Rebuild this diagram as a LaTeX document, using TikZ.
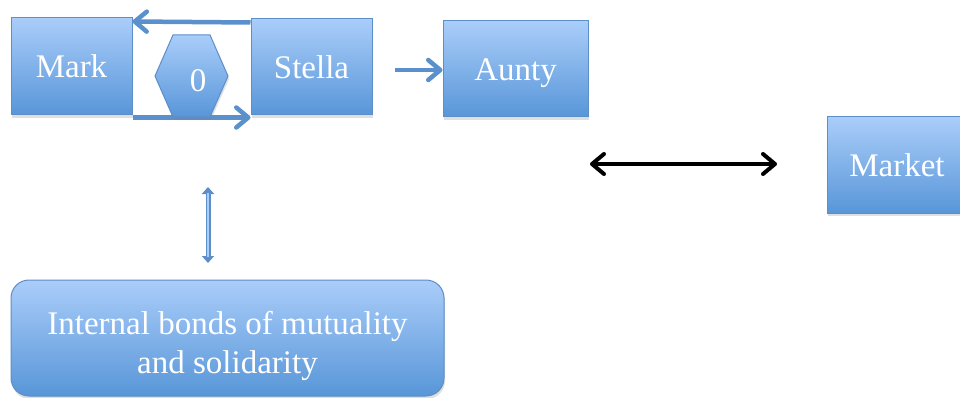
\documentclass[tikz,border=0pt]{standalone}
\usepackage{fontspec}
\setmainfont{Liberation Serif}
\usetikzlibrary{arrows.meta,shadows}
\definecolor{boxtop}{RGB}{170,205,250}
\definecolor{boxbot}{RGB}{88,150,216}
\definecolor{boxedge}{RGB}{92,142,200}
\definecolor{linkblue}{RGB}{90,145,205}
\tikzset{
  person/.style={draw=boxedge, line width=1pt, top color=boxtop, bottom color=boxbot,
    text=white, font=\fontsize{33}{39}\selectfont, inner sep=0pt,
    drop shadow={shadow xshift=1pt, shadow yshift=-3pt, opacity=0.25}},
  link/.style={draw=linkblue, line width=4.5pt,
    -{Straight Barb[length=12pt, width=20pt, round]}},
  bothways/.style={draw=black, line width=4pt,
    {Straight Barb[length=12pt, width=20pt, round]}-{Straight Barb[length=12pt, width=20pt, round]}},
}
\begin{document}
\begin{tikzpicture}[x=1pt, y=-1pt]
\useasboundingbox (0,0) rectangle (960,398);
\clip (0,0) rectangle (960,398);
\fill[white] (0,0) rectangle (960,398);

% household members
\node[person, minimum width=121pt, minimum height=97pt] (mark) at (71.5,66.5) {Mark};
\node[person, minimum width=121pt, minimum height=96pt] (stella) at (311.5,67) {Stella};
\node[person, minimum width=145pt, minimum height=96pt] (aunty) at (515.5,69) {\rule{0pt}{30pt}Aunty};
\node[person, minimum width=140pt, minimum height=96pt] (market) at (897,165) {Market};
\node[person, rounded corners=18pt, minimum width=433pt, minimum height=116pt, align=center]
  (bonds) at (227.5,338) {\parbox{420pt}{\centering\vspace*{15pt}Internal bonds of mutuality\\and solidarity}};

% flows between Mark and Stella
\draw[link] ([yshift=-4pt]stella.north west) -- ([yshift=-4pt]mark.north east);
\draw[link] ([yshift=-2pt]mark.south east) -- ([yshift=-2pt]stella.south west);

% the hexagon sitting between them
\path[person] (155,76) -- (173,35) -- (210,35) -- (228,76) -- (210,117) -- (173,117) -- cycle;
\node[text=white, font=\fontsize{33}{39}\selectfont, inner sep=0pt] (zero) at (198,81) {0};

% Stella to Aunty
\coordinate (sa) at (395,70);
\draw[link] (sa) -- (aunty.west |- sa);

% household and market
\coordinate (hl) at (590,164);
\coordinate (hr) at (777,164);
\draw[bothways] (hl) -- (hr);

% link towards internal bonds
\coordinate (vt) at (208,187);
\coordinate (vb) at (208,263);
\draw[draw=boxedge, line width=5pt, {Triangle[length=7pt, width=12pt]}-{Triangle[length=7pt, width=12pt]}] (vt) -- (vb);
\draw[draw=boxtop, line width=2pt, shorten >=6pt, shorten <=6pt] (vt) -- (vb);
\end{tikzpicture}
\end{document}
